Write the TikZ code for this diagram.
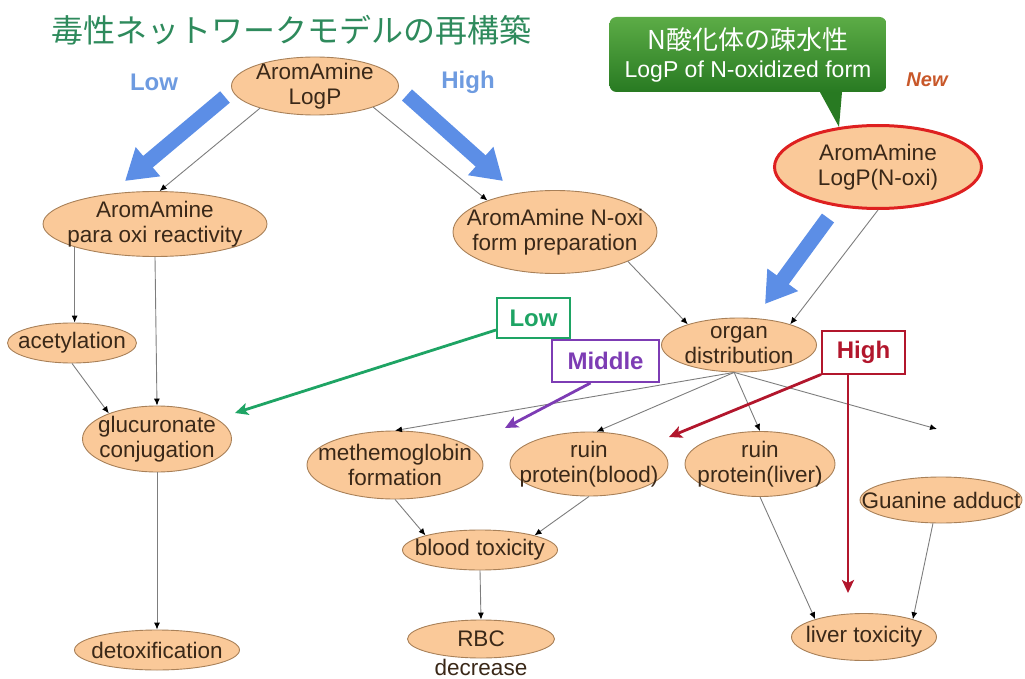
\documentclass[tikz,border=0pt]{standalone}
\usepackage{fontspec}
\setmainfont{Liberation Sans}
\newfontfamily\cjk{Noto Sans CJK JP}
\usetikzlibrary{shapes.geometric,arrows.meta}

\definecolor{blobfill}{RGB}{250,201,153}
\definecolor{blobline}{RGB}{168,128,88}
\definecolor{blobink}{RGB}{58,40,24}
\definecolor{linkgray}{RGB}{125,125,125}
\definecolor{fatblue}{RGB}{92,142,230}
\definecolor{labelblue}{RGB}{110,155,224}
\definecolor{titlegreen}{RGB}{46,138,92}
\definecolor{lowgreen}{RGB}{30,164,100}
\definecolor{midpurple}{RGB}{125,60,180}
\definecolor{highred}{RGB}{178,22,44}
\definecolor{calltop}{RGB}{92,172,70}
\definecolor{callbot}{RGB}{40,122,34}
\definecolor{newred}{RGB}{200,88,42}
\definecolor{ringred}{RGB}{222,32,32}

\tikzset{
  blob/.style args={#1x#2}{ellipse, draw=blobline, line width=0.9pt, fill=blobfill,
    minimum width=#1pt, minimum height=#2pt, inner sep=0pt},
  blobtext/.style={align=center, text=blobink, font=\fontsize{22.5}{25}\selectfont, inner sep=0pt},
  link/.style={draw=linkgray, line width=0.9pt, -{Latex[black,length=7pt,width=6pt]}},
  fat/.style={draw=fatblue, line width=15pt, -{Triangle[length=30pt,width=36pt]}},
  flag/.style={draw=#1, line width=2pt, text=#1, fill=white,
    font=\bfseries\fontsize{24}{26}\selectfont, inner sep=0pt},
  pointer/.style={draw=#1, line width=2.8pt, -{Stealth[length=13pt,width=12pt,inset=3pt]}},
}

\begin{document}
\begin{tikzpicture}[x=1pt, y=-1pt]
    \useasboundingbox (0,0) rectangle (1025,679);

    % Title
    \node[text=titlegreen, font=\cjk\fontsize{32}{34}\selectfont, inner sep=0pt] (title) at (291,30) {毒性ネットワークモデルの再構築};

    % Callout
    \node[rounded corners=7pt, top color=calltop, bottom color=callbot, minimum width=277pt, minimum height=75pt,
        inner sep=0pt, align=center, text=white, font=\fontsize{23}{28}\selectfont] (callout) at (748,54.5)
        {{\cjk\fontsize{26}{28}\selectfont N酸化体の疎水性}\\{LogP of N-oxidized form}};
    \coordinate (calltip) at (839,127);
    \fill[callbot] ([xshift=72pt]callout.south) -- ([xshift=94pt]callout.south) -- (calltip) -- cycle;
    \node[text=newred, font=\bfseries\itshape\fontsize{20}{22}\selectfont] (newtag) at (927,80) {New};

    % Level 0
    \node[blob=167x58, label={[blobtext]center:AromAmine\\LogP}] (logp) at (315,86) {};
    \node[blob=207x83, draw=ringred, line width=3pt, label={[blobtext]center:AromAmine\\LogP(N-oxi)}] (logpN) at (878,167) {};

    % Level 1
    \node[blob=224x65, label={[blobtext]center:AromAmine\\para oxi reactivity}] (para) at (155,224) {};
    \node[blob=204x83, label={[blobtext]center:AromAmine N-oxi\\form preparation}] (noxi) at (555,232) {};
    \node[blob=155x54, label={[blobtext]center:organ\\distribution}] (organ) at (739,345) {};

    % Level 2
    \node[blob=129x40, label={[blobtext]center:acetylation}] (acetyl) at (72,343) {};
    \node[blob=149x66, label={[blobtext]center:glucuronate\\conjugation}] (gluc) at (157,439) {};
    \node[blob=176x68, label={[blobtext]center:methemoglobin\\formation}] (methemo) at (395,465) {};
    \node[blob=158x64, label={[blobtext]center:ruin\\protein(blood)}] (ruinB) at (589,464) {};
    \node[blob=150x65, label={[blobtext]center:ruin\\protein(liver)}] (ruinL) at (760,464) {};
    \node[blob=162x46, label={[blobtext]center:Guanine adduct}] (guanine) at (941,500) {};

    % Level 3 (outcomes)
    \node[blob=155x40, label={[blobtext]center:blood toxicity}] (blood) at (480,550) {};
    \node[blob=147x38, label={[blobtext]center:RBC}, label={[blobtext,yshift=-28pt]center:decrease}] (rbc) at (481,639) {};
    \node[blob=165x40, label={[blobtext]center:detoxification}] (detox) at (157,650) {};
    \node[blob=145x47, label={[blobtext]center:liver toxicity}] (liver) at (864,637) {};

    % LogP hints
    \node[text=labelblue, font=\bfseries\fontsize{24}{26}\selectfont] (lowlabel) at (154,82) {Low};
    \node[text=labelblue, font=\bfseries\fontsize{24}{26}\selectfont] (highlabel) at (468,82) {High};
    \coordinate (lowfrom) at (225,97);
    \coordinate (lowto) at (125,181);
    \coordinate (highfrom) at (407,95);
    \coordinate (highto) at (503,181);
    \coordinate (noxifrom) at (828,218);
    \coordinate (noxito) at (765,304);
    \draw[fat] (lowfrom) -- (lowto);
    \draw[fat] (highfrom) -- (highto);
    \draw[fat] (noxifrom) -- (noxito);

    % Connections
    \draw[link] (logp.202) -- (para.82);
    \draw[link] (logp.340) -- (noxi.155);
    \draw[link] (para.196) -- (para.196 |- acetyl.north);
    \draw[link] (para.south) -- (gluc.north);
    \draw[link] (acetyl.south) -- (gluc.152);
    \draw[link] (gluc.south) -- (detox.north);
    \draw[link] (noxi.338) -- (organ.158);
    \draw[link] (logpN.south) -- (organ.22);
    \coordinate (spare) at (937,429);
    \foreach \t in {methemo.north, ruinB.77, ruinL.north, spare} {
        \draw[link] (organ.260) -- (\t);
    }
    \draw[link] (methemo.south) -- (blood.165);
    \draw[link] (ruinB.south) -- (blood.15);
    \draw[link] (blood.south) -- (rbc.north);
    \draw[link] (ruinL.south) -- (liver.160);
    \draw[link] (guanine.251) -- (liver.20);

    % Organ distribution levels
    \node[flag=lowgreen, minimum width=73pt, minimum height=40pt] (lowbox) at (533.5,318) {Low};
    \node[flag=midpurple, minimum width=107pt, minimum height=42pt] (midbox) at (605.5,361) {Middle};
    \node[flag=highred, minimum width=83pt, minimum height=43pt] (highbox) at (863.5,352) {High};
    \coordinate (glucmark) at (235,413);
    \coordinate (methmark) at (505,428);
    \coordinate (bloodmark) at (669,437);
    \coordinate (livermark) at (848,593);
    \draw[pointer=lowgreen] ([yshift=-12pt]lowbox.west) -- (glucmark);
    \draw[pointer=midpurple] ([xshift=-15pt]midbox.south) -- (methmark);
    \draw[pointer=highred] (highbox.south west) -- (bloodmark);
    \draw[pointer=highred] ([xshift=-15.5pt]highbox.south) -- (livermark);
\end{tikzpicture}
\end{document}
